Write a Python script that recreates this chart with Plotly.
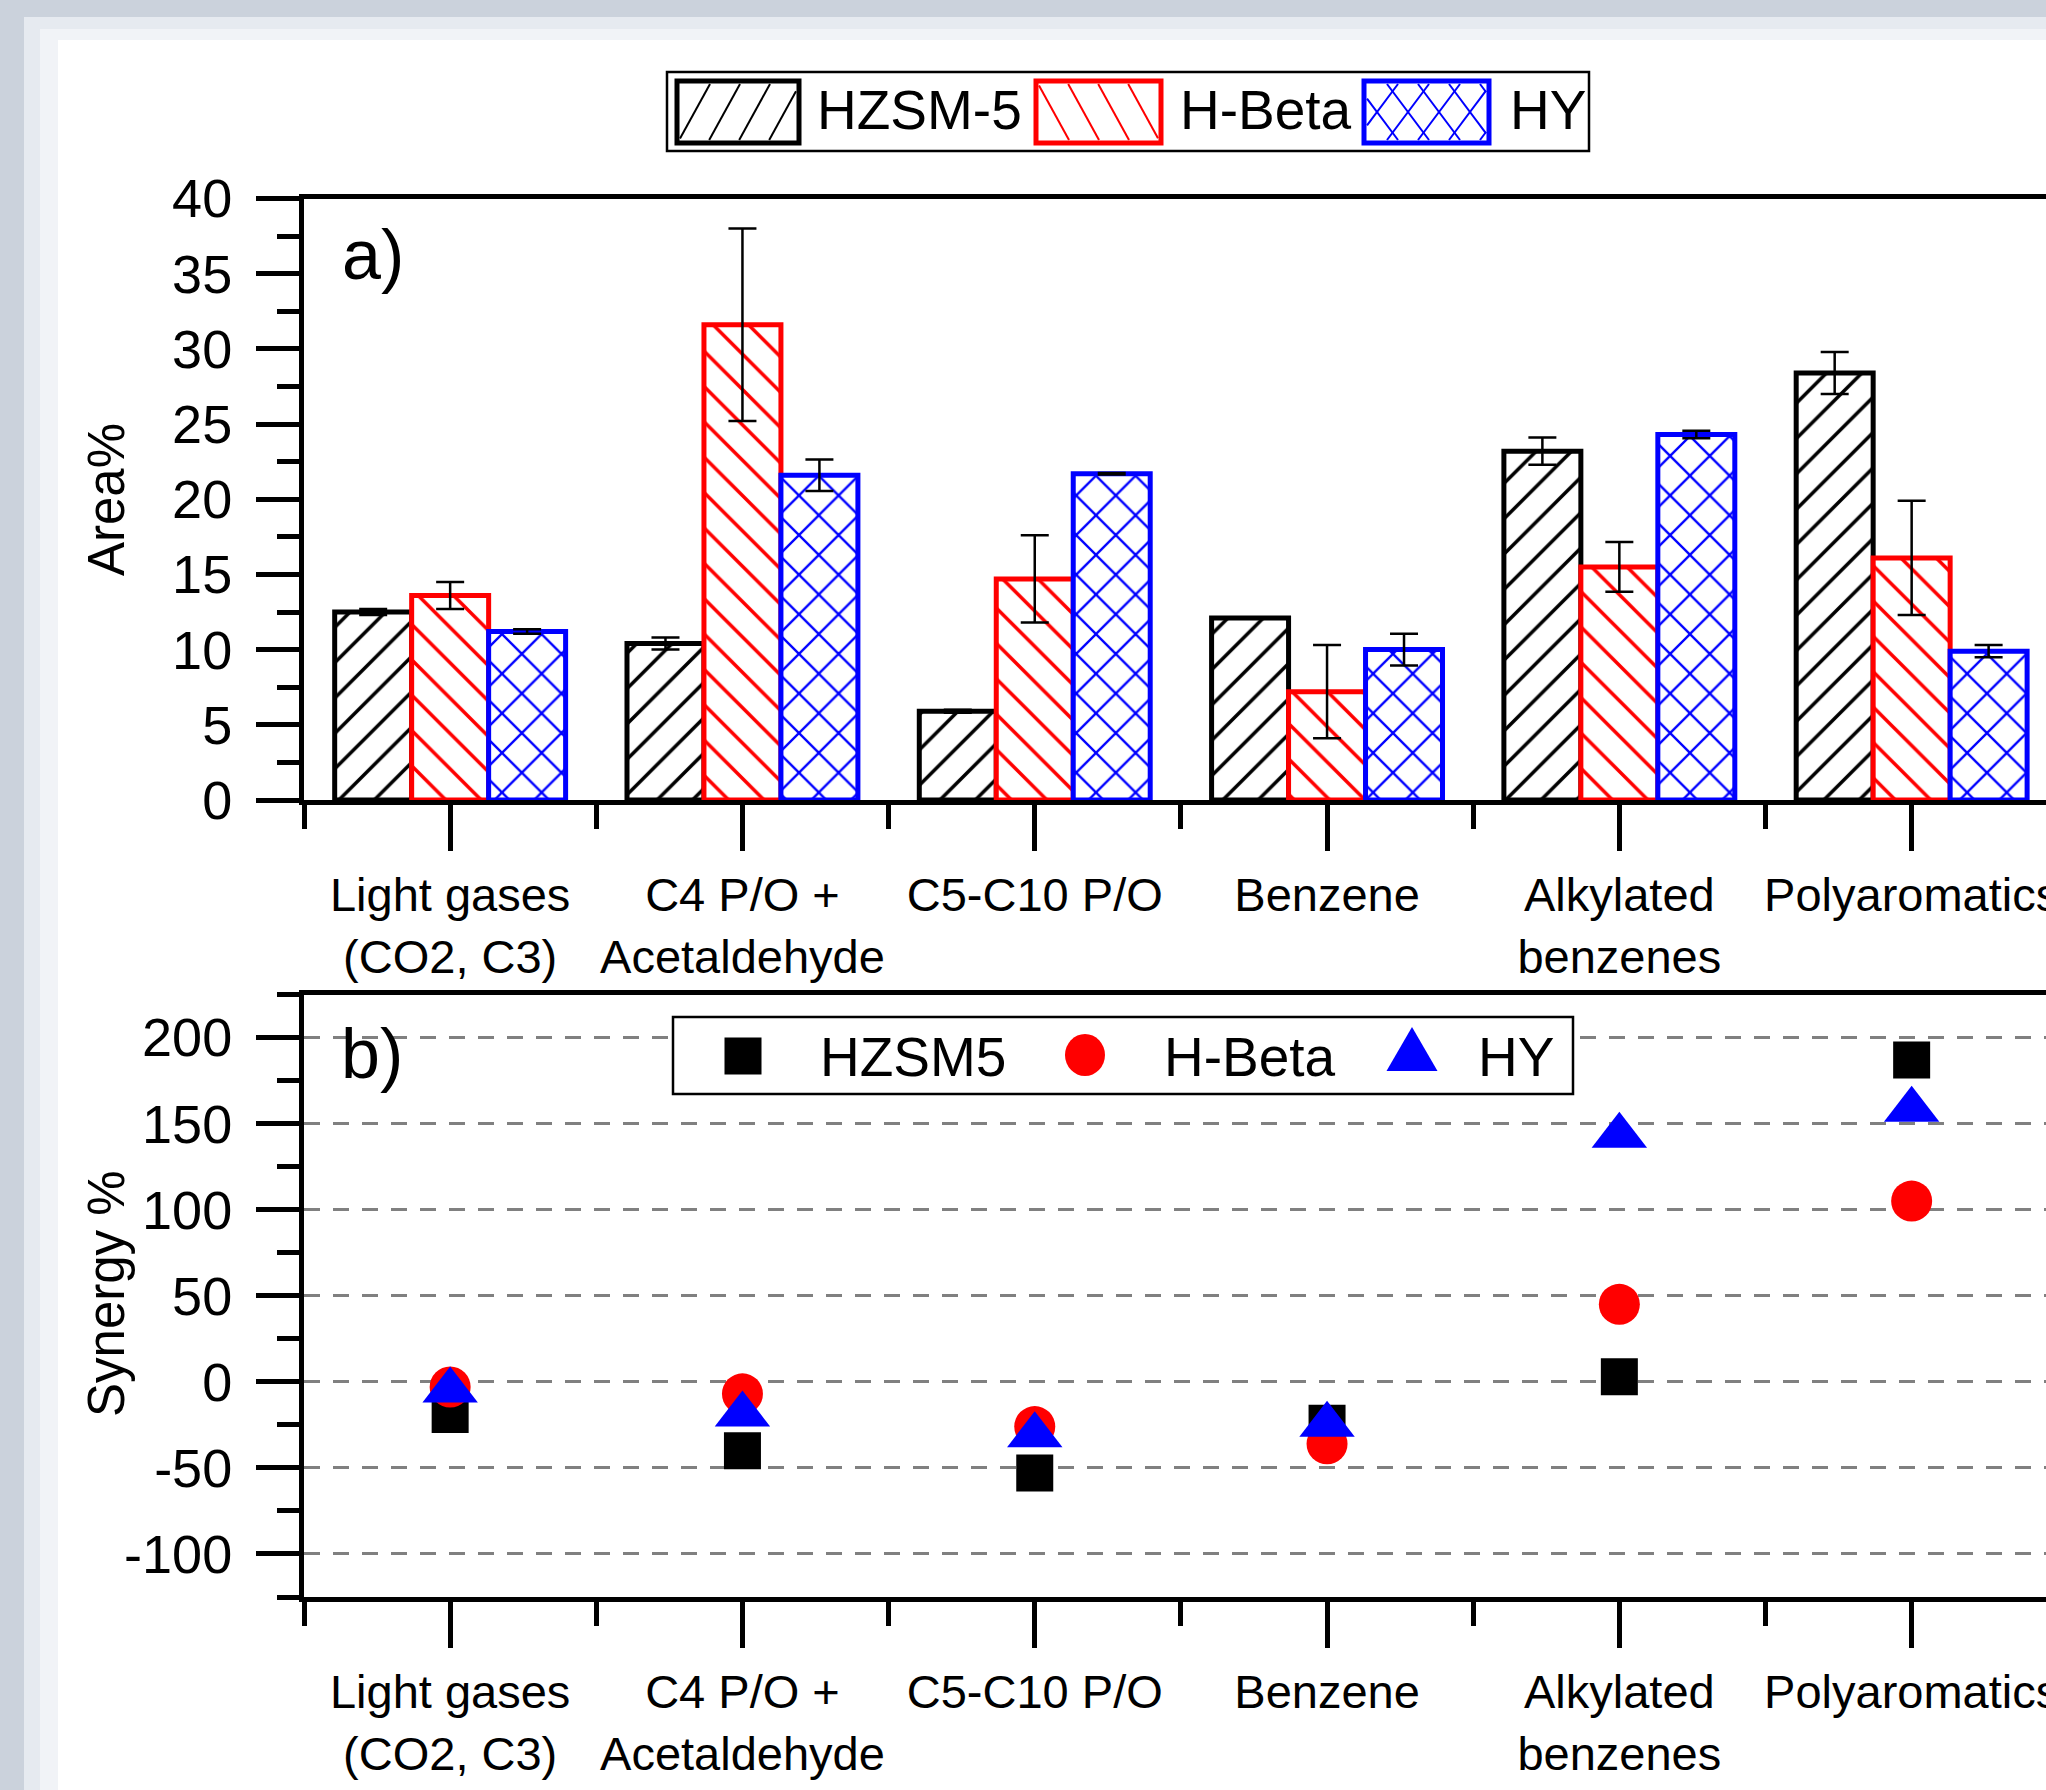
import plotly.graph_objects as go

W, H = 2046, 1790
FONT = "Liberation Sans, Arial, sans-serif"

# ---------------- data ----------------
categories = ["Light gases<br>(CO2, C3)", "C4 P/O +<br>Acetaldehyde", "C5-C10 P/O",
              "Benzene", "Alkylated<br>benzenes", "Polyaromatics"]
bar_names = ["HZSM-5", "H-Beta", "HY"]
area_hzsm5 = [12.5, 10.4, 5.9, 12.1, 23.2, 28.4]
area_hzsm5_err = [0.2, 0.4, 0.1, 0.05, 0.9, 1.4]
area_hbeta = [13.6, 31.6, 14.7, 7.2, 15.5, 16.1]
area_hbeta_err = [0.9, 6.4, 2.9, 3.1, 1.65, 3.8]
area_hy = [11.2, 21.6, 21.7, 10.0, 24.3, 9.9]
area_hy_err = [0.15, 1.05, 0.05, 1.05, 0.25, 0.4]

scatter_names = ["HZSM5", "H-Beta", "HY"]
syn_hzsm5 = [-19, -40, -53, -24, 3, 187]
syn_hbeta = [-3, -7, -26, -36, 45, 105]
syn_hy = [-5, -19, -31, -25, 143, 158]

area_ticks = [0, 5, 10, 15, 20, 25, 30, 35, 40]
area_ticktext = ["0", "5", "10", "15", "20", "25", "30", "35", "40"]
syn_ticks = [-100, -50, 0, 50, 100, 150, 200]
syn_ticktext = ["-100", "-50", "0", "50", "100", "150", "200"]

x_pos = list(range(len(categories)))

# ---------------- helpers (pixel -> paper) ----------------
def px(x):
    return x / W


def py(y):
    return 1 - y / H


# layout geometry (pixels)
X_LEFT = 304.0
UNIT = 292.3
x_range = [-0.5, -0.5 + (W - X_LEFT) / UNIT]

fig = go.Figure()

bar_specs = [
    (area_hzsm5, area_hzsm5_err, "black", "/", 25, 0.14),
    (area_hbeta, area_hbeta_err, "red", "\\", 25, 0.14),
    (area_hy, area_hy_err, "blue", "x", 28, 0.16),
]
for name, (vals, errs, col, shp, psz, sol) in zip(bar_names, bar_specs):
    fig.add_trace(go.Bar(
        x=x_pos, y=vals, name=name,
        error_y=dict(type="data", array=errs, color="black", thickness=2.5, width=14),
        marker=dict(color="white", line=dict(color=col, width=5),
                    pattern=dict(shape=shp, fgcolor=col, bgcolor="white",
                                 size=psz, solidity=sol)),
        xaxis="x", yaxis="y", showlegend=False,
    ))

sc_specs = [
    (syn_hzsm5, "square", 37, "black"),
    (syn_hbeta, "circle", 41, "red"),
    (syn_hy, "triangle-up", 48, "blue"),
]
for name, (vals, sym, sz, col) in zip(scatter_names, sc_specs):
    fig.add_trace(go.Scatter(
        x=x_pos, y=vals, name=name, mode="markers",
        marker=dict(symbol=sym, size=sz, color=col, line=dict(width=0)),
        xaxis="x2", yaxis="y2", showlegend=False, cliponaxis=False,
    ))

axis_common = dict(showline=True, linecolor="black", linewidth=5, ticks="outside",
                   tickcolor="black", tickwidth=5, zeroline=False,
                   tickfont=dict(family=FONT, size=54, color="black"))

xaxis_common = dict(axis_common, range=x_range, domain=[px(X_LEFT), 1],
                    tickmode="array", tickvals=x_pos, ticktext=categories,
                    ticklen=46, mirror=True, showgrid=False,
                    ticklabeloverflow="allow", ticklabelstandoff=4,
                    tickfont=dict(family=FONT, size=47, color="black"),
                    minor=dict(tickmode="linear", tick0=-0.5, dtick=1, ticklen=24,
                               tickwidth=5, tickcolor="black", ticks="outside"))

fig.update_layout(
    width=W, height=H, template="none",
    margin=dict(l=0, r=0, t=0, b=0),
    paper_bgcolor="#cbd2dc", plot_bgcolor="rgba(0,0,0,0)",
    barmode="group", bargap=0.21, bargroupgap=0,
    showlegend=False,
    font=dict(family=FONT, color="black"),
    xaxis=dict(xaxis_common, anchor="y"),
    yaxis=dict(axis_common, domain=[py(800), py(198.5)], range=[0, 40],
               tickmode="array", tickvals=area_ticks, ticktext=area_ticktext,
               ticklen=43, ticklabelstandoff=13, showgrid=False, mirror=False, anchor="x",
               minor=dict(tickmode="linear", tick0=0, dtick=2.5, ticklen=22,
                          tickwidth=5, tickcolor="black", ticks="outside")),
    xaxis2=dict(xaxis_common, anchor="y2"),
    yaxis2=dict(axis_common, domain=[py(1597), py(994.5)], range=[-125, 225],
                tickmode="array", tickvals=syn_ticks, ticktext=syn_ticktext,
                ticklen=43, ticklabelstandoff=13, showgrid=True, gridcolor="#808080",
                gridwidth=3, griddash="16px,13px", mirror=False, anchor="x2",
                minor=dict(tickmode="linear", tick0=-125, dtick=25, ticklen=22,
                           tickwidth=5, tickcolor="black", ticks="outside")),
)

shapes = []
# page background (frame + white card)
shapes.append(dict(type="rect", xref="paper", yref="paper", layer="below",
                   x0=px(24), x1=1, y0=0, y1=py(17), fillcolor="#e6eaf0", line=dict(width=0)))
shapes.append(dict(type="rect", xref="paper", yref="paper", layer="below",
                   x0=px(40), x1=1, y0=0, y1=py(29), fillcolor="#f1f3f7", line=dict(width=0)))
shapes.append(dict(type="rect", xref="paper", yref="paper", layer="below",
                   x0=px(58), x1=1, y0=0, y1=py(40), fillcolor="white", line=dict(width=0)))


def hatch(x0, y0, x1, y1, spacing, k, direction, color, width=2):
    segs = []
    h = y1 - y0
    c = x0 - h * k - spacing
    while c <= x1 + spacing:
        if direction > 0:
            ax, ay, bx, by = c, y1, c + h * k, y0
        else:
            ax, ay, bx, by = c, y0, c + h * k, y1
        t0 = (x0 - ax) / (bx - ax)
        t1 = (x1 - ax) / (bx - ax)
        ta, tb = max(0.0, min(t0, t1)), min(1.0, max(t0, t1))
        if tb > ta:
            segs.append(dict(type="line", xref="paper", yref="paper",
                             x0=px(ax + ta * (bx - ax)), y0=py(ay + ta * (by - ay)),
                             x1=px(ax + tb * (bx - ax)), y1=py(ay + tb * (by - ay)),
                             line=dict(color=color, width=width)))
        c += spacing
    return segs


# legend a
shapes.append(dict(type="rect", xref="paper", yref="paper", x0=px(667), x1=px(1589),
                   y0=py(151), y1=py(72), fillcolor="white", line=dict(color="black", width=2.5)))
sw = [(677, 799, "black", ["/"]), (1036, 1161, "red", ["\\"]), (1364, 1489, "blue", ["/", "\\"])]
for (sx0, sx1, col, dirs) in sw:
    for d in dirs:
        if col == "blue":
            shapes.extend(hatch(sx0 + 3, 84, sx1 - 3, 140, 31, 0.75, 1 if d == "/" else -1, col, 2))
        else:
            shapes.extend(hatch(sx0 + 3, 84, sx1 - 3, 140, 30, 0.55, 1 if d == "/" else -1, col, 2))
    shapes.append(dict(type="rect", xref="paper", yref="paper", x0=px(sx0), x1=px(sx1),
                       y0=py(143), y1=py(81), line=dict(color=col, width=5)))

# legend b
shapes.append(dict(type="rect", xref="paper", yref="paper", x0=px(673), x1=px(1573),
                   y0=py(1094), y1=py(1017), fillcolor="white", line=dict(color="black", width=2.5)))
shapes.append(dict(type="rect", xref="paper", yref="paper", x0=px(724.5), x1=px(761.5),
                   y0=py(1074.5), y1=py(1037.5), fillcolor="black", line=dict(width=0)))
shapes.append(dict(type="circle", xref="paper", yref="paper", x0=px(1065), x1=px(1105),
                   y0=py(1076), y1=py(1034), fillcolor="red", line=dict(width=0)))
shapes.append(dict(type="path", xref="paper", yref="paper",
                   path=f"M {px(1386.5)},{py(1071)} L {px(1437.5)},{py(1071)} L {px(1412)},{py(1027)} Z",
                   fillcolor="blue", line=dict(width=0)))

annotations = []


def txt(text, x, y, size, xanchor="left", angle=0):
    annotations.append(dict(text=text, x=px(x), y=py(y), xref="paper", yref="paper",
                            xanchor=xanchor, yanchor="middle", showarrow=False,
                            textangle=angle, font=dict(family=FONT, size=size, color="black")))


for name, x in zip(bar_names, [815, 1178, 1508]):
    txt(name, x, 110, 55)
for name, x in zip(scatter_names, [818, 1162, 1476]):
    txt(name, x, 1057, 55)
txt("a)", 373, 255, 70, "center")
txt("b)", 372, 1054, 70, "center")
txt("Area%", 106, 500, 51, "center", -90)
txt("Synergy %", 106, 1294, 51, "center", -90)

fig.update_layout(shapes=shapes, annotations=annotations)

fig.write_html("out.html", config={"displayModeBar": False},
               post_script="document.body.style.margin='0px';document.body.style.overflow='hidden';")
